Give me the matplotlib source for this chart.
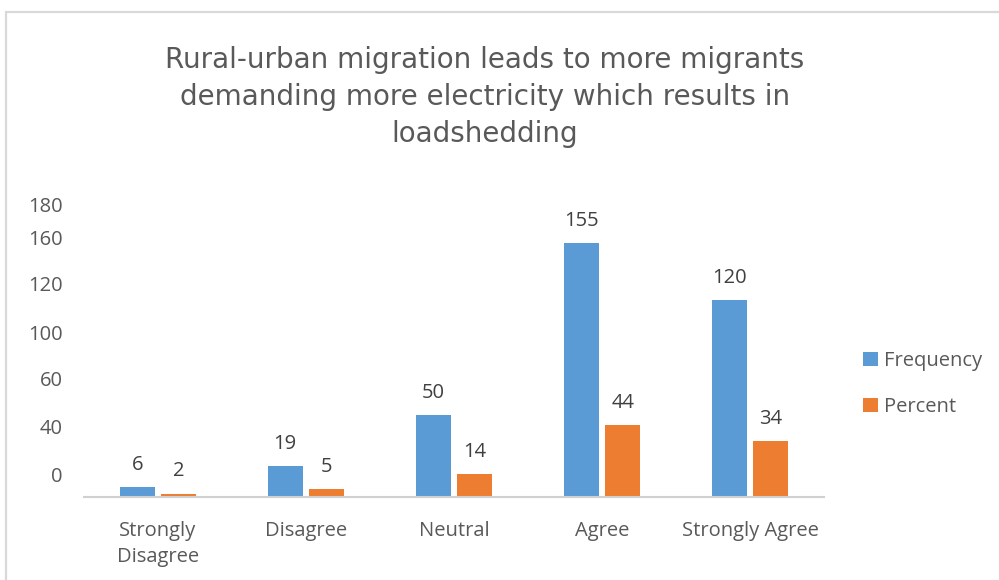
import matplotlib
matplotlib.use("Agg")
import matplotlib.pyplot as plt
from matplotlib.patches import Rectangle
import numpy as np

categories = ["Strongly\nDisagree", "Disagree", "Neutral", "Agree", "Strongly Agree"]
frequency = [6, 19, 50, 155, 120]
percent = [2, 5, 14, 44, 34]
series_names = ["Frequency", "Percent"]
# y tick labels as printed in the reference (placed where they appear)
ytick_labels = ["0", "40", "60", "100", "120", "160", "180"]
ytick_pos = [13.5, 43, 72, 100.5, 130, 158.5, 178.5]

BLUE = "#5B9BD5"
ORANGE = "#ED7D31"
TXT = "#595959"
FONT = "Open Sans"
FS = 14.5

W, H = 999, 580
fig = plt.figure(figsize=(W / 100, H / 100), dpi=100)
fig.patch.set_facecolor("white")

# outer chart frame (partially visible)
fig.patches.append(Rectangle((6 / W, -0.1), 1.2, (H - 12) / H + 0.1, transform=fig.transFigure,
                             fill=False, edgecolor="#d9d9d9", linewidth=1.6))

ax_left, ax_right = 84, 824
ax_top, ax_bot = 202, 497
ax = fig.add_axes([ax_left / W, (H - ax_bot) / H, (ax_right - ax_left) / W, (ax_bot - ax_top) / H])
ax.set_facecolor("none")

x = np.arange(len(categories))
bw = 0.236
off = 0.141
b1 = ax.bar(x - off, frequency, bw, color=BLUE, label=series_names[0], zorder=2)
b2 = ax.bar(x + off, percent, bw, color=ORANGE, label=series_names[1], zorder=2)

for bars, vals in ((b1, frequency), (b2, percent)):
    for r, v in zip(bars, vals):
        ax.annotate(str(v), (r.get_x() + r.get_width() / 2, r.get_height()),
                    xytext=(0, 16.0), textcoords="offset points", ha="center", va="center",
                    fontsize=FS, color="#404040", family=FONT)

ax.set_xlim(-0.5, len(categories) - 0.5)
ax.set_ylim(0, 180)
ax.set_yticks(ytick_pos)
ax.set_yticklabels(ytick_labels, fontsize=FS, color=TXT, family=FONT)
ax.set_xticks(x)
ax.set_xticklabels(categories, fontsize=FS, color=TXT, family=FONT, linespacing=1.42)
ax.tick_params(axis="y", length=0, pad=15.5)
ax.tick_params(axis="x", length=0, pad=17)
for s in ("top", "right", "left"):
    ax.spines[s].set_visible(False)
ax.spines["bottom"].set_color("#d0d0d0")
ax.spines["bottom"].set_linewidth(1.5)
ax.spines["bottom"].set_zorder(3)

leg = fig.legend(handles=[b1, b2], labels=series_names, loc="center left",
                 bbox_to_anchor=(845 / W, 1 - 384 / H), frameon=False,
                 prop={"family": FONT, "size": FS}, handlelength=0.74, handleheight=0.74,
                 handletextpad=0.32, labelspacing=1.28, labelcolor=TXT)

fig.text(485 / W, 1 - 97 / H,
         "Rural-urban migration leads to more migrants\ndemanding more electricity which results in\nloadshedding",
         ha="center", va="center", fontsize=20, color=TXT, family="DejaVu Sans", linespacing=1.4)

fig.savefig("out.png", dpi=100, facecolor="white")
